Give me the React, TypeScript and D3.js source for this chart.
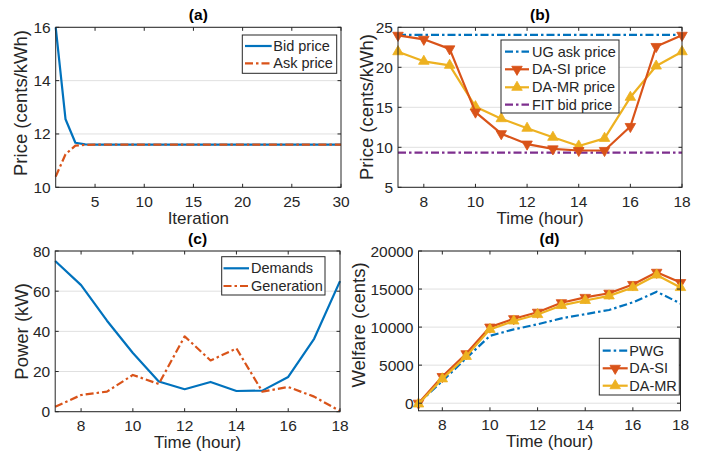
import React from "react";
import * as d3 from "d3";

const iterations = [1, 2, 3, 4, 5, 6, 7, 8, 9, 10, 11, 12, 13, 14, 15, 16, 17, 18, 19, 20, 21, 22, 23, 24, 25, 26, 27, 28, 29, 30];
const bidPrice = [16.0, 12.55, 11.67, 11.61, 11.6, 11.6, 11.6, 11.6, 11.6, 11.6, 11.6, 11.6, 11.6, 11.6, 11.6, 11.6, 11.6, 11.6, 11.6, 11.6, 11.6, 11.6, 11.6, 11.6, 11.6, 11.6, 11.6, 11.6, 11.6, 11.6];
const askPrice = [10.4, 11.24, 11.56, 11.59, 11.6, 11.6, 11.6, 11.6, 11.6, 11.6, 11.6, 11.6, 11.6, 11.6, 11.6, 11.6, 11.6, 11.6, 11.6, 11.6, 11.6, 11.6, 11.6, 11.6, 11.6, 11.6, 11.6, 11.6, 11.6, 11.6];

const hours = [7, 8, 9, 10, 11, 12, 13, 14, 15, 16, 17, 18];
const ugAskPrice = [24.05, 24.05, 24.05, 24.05, 24.05, 24.05, 24.05, 24.05, 24.05, 24.05, 24.05, 24.05];
const fitBidPrice = [9.33, 9.33, 9.33, 9.33, 9.33, 9.33, 9.33, 9.33, 9.33, 9.33, 9.33, 9.33];
const daSiPrice = [24.0, 23.5, 22.3, 14.4, 11.7, 10.4, 9.8, 9.6, 9.6, 12.6, 22.6, 24.0];
const daMrPrice = [21.95, 20.75, 20.25, 15.08, 13.58, 12.38, 11.25, 10.16, 11.12, 16.25, 20.16, 21.95];

const demands = [75, 63, 45.3, 29.2, 15, 11.2, 14.8, 10.3, 10.5, 17.3, 36.3, 65];
const generation = [2.5, 8.3, 10, 18.3, 13.8, 37.5, 25.5, 31.5, 10, 12.3, 7.5, 0.3];

const pwgWelfare = [0, 2900, 5900, 8850, 9700, 10370, 11150, 11700, 12250, 13250, 14650, 13100];
const daSiWelfare = [0, 3500, 6500, 10000, 11100, 11950, 13200, 13900, 14450, 15600, 17200, 15850];
const daMrWelfare = [-100, 3200, 6150, 9700, 10800, 11650, 12850, 13500, 14100, 15200, 16850, 15200];

const xTicksA = [5, 10, 15, 20, 25, 30];
const yTicksA = [10, 12, 14, 16];
const xTicksHour = [8, 10, 12, 14, 16, 18];
const yTicksB = [5, 10, 15, 20, 25];
const yTicksC = [0, 20, 40, 60, 80];
const yTicksD = [0, 5000, 10000, 15000, 20000];

const BLUE = "#0072BD";
const ORANGE = "#D95319";
const YELLOW = "#EDB120";
const PURPLE = "#7E2F8E";
const AX = "#262626";
const GRID = "#e0e0e0";
const FONT = "'Liberation Sans', Arial, Helvetica, sans-serif";
const DASHDOT = "8,3,2.5,3";
const LW = 2.2;

type Series = {
  name: string;
  x: number[];
  y: number[];
  color: string;
  dash?: string;
  marker?: "up" | "down";
};

type PanelProps = {
  title: string;
  box: [number, number, number, number]; // left, right, top, bottom
  xDomain: [number, number];
  yDomain: [number, number];
  xTicks: number[];
  yTicks: number[];
  xLabel: string;
  yLabel: string;
  yLabelX: number;
  yLabelY?: number;
  series: Series[];
  legend: { box: [number, number, number, number]; rows: number[]; lineX: [number, number]; textX: number; order: number[] };
};

const triUp = d3.symbol().type(d3.symbolTriangle).size(48)() as string;

function Marker({ x, y, kind, color }: { x: number; y: number; kind: "up" | "down"; color: string }) {
  return (
    <path
      d={triUp}
      transform={`translate(${x},${y}) rotate(${kind === "down" ? 180 : 0})`}
      fill={color}
      stroke={color}
      strokeWidth={0.8}
    />
  );
}

function Panel(p: PanelProps) {
  const [l, r, t, b] = p.box;
  const xs = d3.scaleLinear().domain(p.xDomain).range([l, r]);
  const ys = d3.scaleLinear().domain(p.yDomain).range([b, t]);
  const line = d3.line<[number, number]>().x((d) => xs(d[0])).y((d) => ys(d[1]));
  const tick = 3.5;
  const cx = (l + r) / 2;
  const cy = p.yLabelY ?? (t + b) / 2;
  const lg = p.legend;
  return (
    <g>
      <defs>
        <clipPath id={`clip-${p.title}`}>
          <rect x={l} y={t - 6} width={r - l + 6} height={b - t + 12} />
        </clipPath>
      </defs>
      {p.yTicks.map((v) => (
        <line key={`g${v}`} x1={l} x2={r} y1={ys(v)} y2={ys(v)} stroke={GRID} strokeWidth={1} />
      ))}
      <g clipPath={`url(#clip-${p.title})`}>
        {p.series.map((s) => (
          <g key={s.name}>
            <path
              d={line(s.x.map((xv, i) => [xv, s.y[i]] as [number, number])) as string}
              fill="none"
              stroke={s.color}
              strokeWidth={LW}
              strokeDasharray={s.dash}
              strokeLinejoin="round"
            />
            {s.marker &&
              s.x.map((xv, i) => <Marker key={i} x={xs(xv)} y={ys(s.y[i])} kind={s.marker!} color={s.color} />)}
          </g>
        ))}
      </g>
      <rect x={l} y={t} width={r - l} height={b - t} fill="none" stroke={AX} strokeWidth={1} />
      {p.xTicks.map((v) => (
        <g key={`x${v}`}>
          <line x1={xs(v)} x2={xs(v)} y1={b} y2={b - tick} stroke={AX} strokeWidth={1} />
          <line x1={xs(v)} x2={xs(v)} y1={t} y2={t + tick} stroke={AX} strokeWidth={1} />
          <text x={xs(v)} y={b + 19.5} textAnchor="middle" fontSize={15.5} fill={AX} fontFamily={FONT}>
            {v}
          </text>
        </g>
      ))}
      {p.yTicks.map((v) => (
        <g key={`y${v}`}>
          <line x1={l} x2={l + tick} y1={ys(v)} y2={ys(v)} stroke={AX} strokeWidth={1} />
          <line x1={r} x2={r - tick} y1={ys(v)} y2={ys(v)} stroke={AX} strokeWidth={1} />
          <text x={l - 5} y={ys(v) + 5.5} textAnchor="end" fontSize={15.5} fill={AX} fontFamily={FONT}>
            {v}
          </text>
        </g>
      ))}
      <text x={cx} y={b + 36.5} textAnchor="middle" fontSize={17} fill={AX} fontFamily={FONT}>
        {p.xLabel}
      </text>
      <text
        transform={`translate(${p.yLabelX},${cy}) rotate(-90)`}
        textAnchor="middle"
        fontSize={18.5}
        fill={AX}
        fontFamily={FONT}
      >
        {p.yLabel}
      </text>
      <text x={cx} y={t - 7} textAnchor="middle" fontSize={15.5} fontWeight="bold" fill="#000" fontFamily={FONT}>
        {p.title}
      </text>
      <g>
        <rect
          x={lg.box[0]}
          y={lg.box[2]}
          width={lg.box[1] - lg.box[0]}
          height={lg.box[3] - lg.box[2]}
          fill="#fff"
          stroke={AX}
          strokeWidth={1}
        />
        {lg.order.map((si, k) => {
          const s = p.series[si];
          const yy = lg.rows[k];
          return (
            <g key={s.name}>
              <line
                x1={lg.lineX[0]}
                x2={lg.lineX[1]}
                y1={yy}
                y2={yy}
                stroke={s.color}
                strokeWidth={LW}
                strokeDasharray={s.dash}
              />
              {s.marker && <Marker x={(lg.lineX[0] + lg.lineX[1]) / 2} y={yy} kind={s.marker} color={s.color} />}
              <text x={lg.textX} y={yy + 5} fontSize={14.5} fill={AX} fontFamily={FONT}>
                {s.name}
              </text>
            </g>
          );
        })}
      </g>
    </g>
  );
}

export default function App() {
  return (
    <svg
      width={702}
      height={461}
      viewBox="0 0 702 461"
      style={{ position: "absolute", left: 0, top: 0, display: "block", background: "#fff" }}
    >
      <rect x={0} y={0} width={702} height={461} fill="#fff" />
      <Panel
        title="(a)"
        box={[55.7, 341, 27.3, 187.3]}
        xDomain={[1, 30]}
        yDomain={[10, 16]}
        xTicks={xTicksA}
        yTicks={yTicksA}
        xLabel="Iteration"
        yLabel="Price (cents/kWh)"
        yLabelX={27}
        yLabelY={103}
        series={[
          { name: "Bid price", x: iterations, y: bidPrice, color: BLUE },
          { name: "Ask price", x: iterations, y: askPrice, color: ORANGE, dash: DASHDOT },
        ]}
        legend={{ box: [242.3, 336.7, 35, 73.3], rows: [46, 63.3], lineX: [245, 271.7], textX: 273.3, order: [0, 1] }}
      />
      <Panel
        title="(b)"
        box={[398, 682, 27.3, 187.3]}
        xDomain={[7, 18]}
        yDomain={[5, 25]}
        xTicks={xTicksHour}
        yTicks={yTicksB}
        xLabel="Time (hour)"
        yLabel="Price (cents/kWh)"
        yLabelX={373}
        yLabelY={107}
        series={[
          { name: "UG ask price", x: hours, y: ugAskPrice, color: BLUE, dash: DASHDOT },
          { name: "FIT bid price", x: hours, y: fitBidPrice, color: PURPLE, dash: DASHDOT },
          { name: "DA-MR price", x: hours, y: daMrPrice, color: YELLOW, marker: "up" },
          { name: "DA-SI price", x: hours, y: daSiPrice, color: ORANGE, marker: "down" },
        ]}
        legend={{
          box: [501, 619, 40, 113],
          rows: [51.7, 69.3, 87.3, 104.7],
          lineX: [505, 529],
          textX: 532,
          order: [0, 3, 2, 1],
        }}
      />
      <Panel
        title="(c)"
        box={[55.2, 340, 251, 411.7]}
        xDomain={[7, 18]}
        yDomain={[0, 80]}
        xTicks={xTicksHour}
        yTicks={yTicksC}
        xLabel="Time (hour)"
        yLabel="Power (kW)"
        yLabelX={28}
        series={[
          { name: "Demands", x: hours, y: demands, color: BLUE },
          { name: "Generation", x: hours, y: generation, color: ORANGE, dash: DASHDOT },
        ]}
        legend={{ box: [221.7, 325, 256.7, 295], rows: [268.3, 286], lineX: [223.5, 249], textX: 251, order: [0, 1] }}
      />
      <Panel
        title="(d)"
        box={[418.5, 680.5, 251, 410.8]}
        xDomain={[7, 18]}
        yDomain={[-1000, 20000]}
        xTicks={xTicksHour}
        yTicks={yTicksD}
        xLabel="Time (hour)"
        yLabel="Welfare (cents)"
        yLabelX={365}
        yLabelY={325}
        series={[
          { name: "PWG", x: hours, y: pwgWelfare, color: BLUE, dash: DASHDOT },
          { name: "DA-SI", x: hours, y: daSiWelfare, color: ORANGE, marker: "down" },
          { name: "DA-MR", x: hours, y: daMrWelfare, color: YELLOW, marker: "up" },
        ]}
        legend={{
          box: [599.3, 679.3, 338.3, 395],
          rows: [350.7, 368.3, 385.7],
          lineX: [602.7, 627.7],
          textX: 629.3,
          order: [0, 1, 2],
        }}
      />
    </svg>
  );
}
